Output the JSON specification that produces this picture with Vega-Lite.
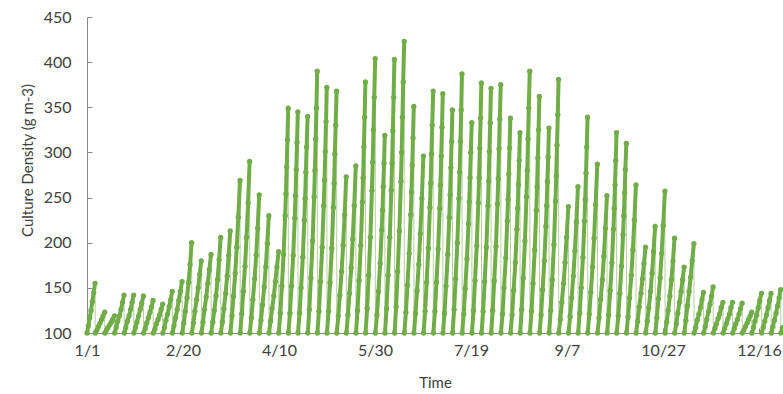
{"$schema":"https://vega.github.io/schema/vega-lite/v6.json","width":696,"height":316,"autosize":{"type":"none"},"padding":{"left":87,"top":17,"right":0,"bottom":61},"background":"white","config":{"view":{"stroke":null},"font":"Lato"},
"data":{"values":[
{"c":1,"t":0,"v":100},{"c":1,"t":0.7,"v":108},{"c":1,"t":1.4,"v":117},{"c":1,"t":2.1,"v":125},{"c":1,"t":2.8,"v":135},{"c":1,"t":3.5,"v":145},{"c":1,"t":4.2,"v":155},
{"c":2,"t":4.3,"v":100},{"c":2,"t":5.1,"v":103},{"c":2,"t":5.9,"v":107},{"c":2,"t":6.8,"v":111},{"c":2,"t":7.6,"v":115},{"c":2,"t":8.4,"v":119},{"c":2,"t":9.2,"v":123},
{"c":3,"t":9.3,"v":100},{"c":3,"t":10.1,"v":103},{"c":3,"t":10.9,"v":106},{"c":3,"t":11.8,"v":109},{"c":3,"t":12.6,"v":112},{"c":3,"t":13.4,"v":115},{"c":3,"t":14.3,"v":119},
{"c":4,"t":14.4,"v":100},{"c":4,"t":15.2,"v":106},{"c":4,"t":16.0,"v":113},{"c":4,"t":16.9,"v":119},{"c":4,"t":17.7,"v":126},{"c":4,"t":18.5,"v":134},{"c":4,"t":19.3,"v":142},
{"c":5,"t":19.4,"v":100},{"c":5,"t":20.2,"v":106},{"c":5,"t":21.0,"v":113},{"c":5,"t":21.9,"v":119},{"c":5,"t":22.7,"v":126},{"c":5,"t":23.5,"v":134},{"c":5,"t":24.3,"v":142},
{"c":6,"t":24.4,"v":100},{"c":6,"t":25.2,"v":106},{"c":6,"t":26.0,"v":112},{"c":6,"t":26.9,"v":119},{"c":6,"t":27.7,"v":126},{"c":6,"t":28.5,"v":133},{"c":6,"t":29.4,"v":141},
{"c":7,"t":29.5,"v":100},{"c":7,"t":30.3,"v":105},{"c":7,"t":31.1,"v":111},{"c":7,"t":32.0,"v":117},{"c":7,"t":32.8,"v":123},{"c":7,"t":33.6,"v":129},{"c":7,"t":34.4,"v":136},
{"c":8,"t":34.5,"v":100},{"c":8,"t":35.3,"v":104},{"c":8,"t":36.1,"v":110},{"c":8,"t":37.0,"v":115},{"c":8,"t":37.8,"v":120},{"c":8,"t":38.6,"v":126},{"c":8,"t":39.4,"v":132},
{"c":9,"t":39.5,"v":100},{"c":9,"t":40.3,"v":106},{"c":9,"t":41.1,"v":114},{"c":9,"t":42.0,"v":121},{"c":9,"t":42.8,"v":129},{"c":9,"t":43.6,"v":137},{"c":9,"t":44.4,"v":146},
{"c":10,"t":44.5,"v":100},{"c":10,"t":45.3,"v":108},{"c":10,"t":46.1,"v":117},{"c":10,"t":47.0,"v":126},{"c":10,"t":47.8,"v":136},{"c":10,"t":48.6,"v":146},{"c":10,"t":49.5,"v":157},
{"c":11,"t":49.6,"v":100},{"c":11,"t":50.4,"v":111},{"c":11,"t":51.2,"v":124},{"c":11,"t":52.1,"v":139},{"c":11,"t":52.9,"v":156},{"c":11,"t":53.7,"v":176},{"c":11,"t":54.5,"v":200},
{"c":12,"t":54.6,"v":100},{"c":12,"t":55.4,"v":111},{"c":12,"t":56.2,"v":124},{"c":12,"t":57.1,"v":137},{"c":12,"t":57.9,"v":150},{"c":12,"t":58.7,"v":165},{"c":12,"t":59.5,"v":180},
{"c":13,"t":59.6,"v":100},{"c":13,"t":60.4,"v":112},{"c":13,"t":61.2,"v":126},{"c":13,"t":62.1,"v":140},{"c":13,"t":62.9,"v":155},{"c":13,"t":63.7,"v":170},{"c":13,"t":64.6,"v":187},
{"c":14,"t":64.7,"v":100},{"c":14,"t":65.5,"v":112},{"c":14,"t":66.3,"v":125},{"c":14,"t":67.2,"v":141},{"c":14,"t":68.0,"v":159},{"c":14,"t":68.8,"v":181},{"c":14,"t":69.6,"v":206},
{"c":15,"t":69.7,"v":100},{"c":15,"t":70.5,"v":112},{"c":15,"t":71.3,"v":127},{"c":15,"t":72.2,"v":144},{"c":15,"t":73.0,"v":163},{"c":15,"t":73.8,"v":186},{"c":15,"t":74.6,"v":213},
{"c":16,"t":74.7,"v":100},{"c":16,"t":75.5,"v":119},{"c":16,"t":76.3,"v":141},{"c":16,"t":77.2,"v":166},{"c":16,"t":78.0,"v":195},{"c":16,"t":78.8,"v":228},{"c":16,"t":79.7,"v":269},
{"c":17,"t":79.8,"v":100},{"c":17,"t":80.6,"v":121},{"c":17,"t":81.4,"v":146},{"c":17,"t":82.3,"v":174},{"c":17,"t":83.1,"v":206},{"c":17,"t":83.9,"v":244},{"c":17,"t":84.7,"v":290},
{"c":18,"t":84.8,"v":100},{"c":18,"t":85.6,"v":117},{"c":18,"t":86.4,"v":137},{"c":18,"t":87.3,"v":160},{"c":18,"t":88.1,"v":186},{"c":18,"t":88.9,"v":216},{"c":18,"t":89.7,"v":253},
{"c":19,"t":89.8,"v":100},{"c":19,"t":90.6,"v":114},{"c":19,"t":91.4,"v":131},{"c":19,"t":92.3,"v":151},{"c":19,"t":93.1,"v":173},{"c":19,"t":93.9,"v":199},{"c":19,"t":94.7,"v":230},
{"c":20,"t":94.8,"v":100},{"c":20,"t":95.6,"v":113},{"c":20,"t":96.4,"v":127},{"c":20,"t":97.3,"v":141},{"c":20,"t":98.1,"v":157},{"c":20,"t":98.9,"v":173},{"c":20,"t":99.8,"v":190},
{"c":21,"t":99.9,"v":100},{"c":21,"t":100.7,"v":122},{"c":21,"t":101.5,"v":152},{"c":21,"t":102.4,"v":187},{"c":21,"t":103.2,"v":230},{"c":21,"t":103.6,"v":254},{"c":21,"t":104.0,"v":284},{"c":21,"t":104.4,"v":314},{"c":21,"t":104.8,"v":349},
{"c":22,"t":104.9,"v":100},{"c":22,"t":105.7,"v":122},{"c":22,"t":106.5,"v":152},{"c":22,"t":107.4,"v":186},{"c":22,"t":108.2,"v":227},{"c":22,"t":108.6,"v":252},{"c":22,"t":109.0,"v":281},{"c":22,"t":109.4,"v":311},{"c":22,"t":109.8,"v":345},
{"c":23,"t":109.9,"v":100},{"c":23,"t":110.7,"v":122},{"c":23,"t":111.5,"v":150},{"c":23,"t":112.4,"v":184},{"c":23,"t":113.2,"v":225},{"c":23,"t":113.6,"v":249},{"c":23,"t":114.0,"v":278},{"c":23,"t":114.4,"v":306},{"c":23,"t":114.9,"v":340},
{"c":24,"t":115.0,"v":100},{"c":24,"t":115.8,"v":126},{"c":24,"t":116.6,"v":161},{"c":24,"t":117.5,"v":202},{"c":24,"t":118.3,"v":251},{"c":24,"t":118.7,"v":280},{"c":24,"t":119.1,"v":315},{"c":24,"t":119.5,"v":349},{"c":24,"t":119.9,"v":390},
{"c":25,"t":120.0,"v":100},{"c":25,"t":120.8,"v":124},{"c":25,"t":121.6,"v":157},{"c":25,"t":122.5,"v":195},{"c":25,"t":123.3,"v":241},{"c":25,"t":123.7,"v":269},{"c":25,"t":124.1,"v":301},{"c":25,"t":124.5,"v":334},{"c":25,"t":124.9,"v":372},
{"c":26,"t":125.0,"v":100},{"c":26,"t":125.8,"v":124},{"c":26,"t":126.6,"v":156},{"c":26,"t":127.5,"v":194},{"c":26,"t":128.3,"v":239},{"c":26,"t":128.7,"v":266},{"c":26,"t":129.1,"v":298},{"c":26,"t":129.5,"v":330},{"c":26,"t":130.0,"v":368},
{"c":27,"t":130.1,"v":100},{"c":27,"t":130.9,"v":119},{"c":27,"t":131.7,"v":142},{"c":27,"t":132.6,"v":168},{"c":27,"t":133.4,"v":197},{"c":27,"t":134.2,"v":231},{"c":27,"t":135.0,"v":273},
{"c":28,"t":135.1,"v":100},{"c":28,"t":135.9,"v":120},{"c":28,"t":136.7,"v":144},{"c":28,"t":137.6,"v":172},{"c":28,"t":138.4,"v":204},{"c":28,"t":139.2,"v":241},{"c":28,"t":140.0,"v":285},
{"c":29,"t":140.1,"v":100},{"c":29,"t":140.9,"v":125},{"c":29,"t":141.7,"v":158},{"c":29,"t":142.6,"v":197},{"c":29,"t":143.4,"v":245},{"c":29,"t":143.8,"v":272},{"c":29,"t":144.2,"v":306},{"c":29,"t":144.6,"v":339},{"c":29,"t":145.0,"v":378},
{"c":30,"t":145.1,"v":100},{"c":30,"t":145.9,"v":127},{"c":30,"t":146.7,"v":164},{"c":30,"t":147.6,"v":206},{"c":30,"t":148.4,"v":258},{"c":30,"t":148.8,"v":289},{"c":30,"t":149.2,"v":325},{"c":30,"t":149.6,"v":361},{"c":30,"t":150.1,"v":404},
{"c":31,"t":150.2,"v":100},{"c":31,"t":151.0,"v":120},{"c":31,"t":151.8,"v":146},{"c":31,"t":152.7,"v":177},{"c":31,"t":153.5,"v":214},{"c":31,"t":153.9,"v":236},{"c":31,"t":154.3,"v":262},{"c":31,"t":154.7,"v":288},{"c":31,"t":155.1,"v":319},
{"c":32,"t":155.2,"v":100},{"c":32,"t":156.0,"v":127},{"c":32,"t":156.8,"v":164},{"c":32,"t":157.7,"v":206},{"c":32,"t":158.5,"v":258},{"c":32,"t":158.9,"v":288},{"c":32,"t":159.3,"v":324},{"c":32,"t":159.7,"v":361},{"c":32,"t":160.1,"v":403},
{"c":33,"t":160.2,"v":100},{"c":33,"t":161.0,"v":129},{"c":33,"t":161.8,"v":168},{"c":33,"t":162.7,"v":213},{"c":33,"t":163.5,"v":268},{"c":33,"t":163.9,"v":300},{"c":33,"t":164.3,"v":339},{"c":33,"t":164.7,"v":378},{"c":33,"t":165.2,"v":423},
{"c":34,"t":165.3,"v":100},{"c":34,"t":166.1,"v":123},{"c":34,"t":166.9,"v":153},{"c":34,"t":167.8,"v":188},{"c":34,"t":168.6,"v":231},{"c":34,"t":169.0,"v":256},{"c":34,"t":169.4,"v":286},{"c":34,"t":169.8,"v":316},{"c":34,"t":170.2,"v":351},
{"c":35,"t":170.3,"v":100},{"c":35,"t":171.1,"v":122},{"c":35,"t":171.9,"v":147},{"c":35,"t":172.8,"v":176},{"c":35,"t":173.6,"v":210},{"c":35,"t":174.4,"v":249},{"c":35,"t":175.2,"v":296},
{"c":36,"t":175.3,"v":100},{"c":36,"t":176.1,"v":124},{"c":36,"t":176.9,"v":156},{"c":36,"t":177.8,"v":194},{"c":36,"t":178.6,"v":239},{"c":36,"t":179.0,"v":266},{"c":36,"t":179.4,"v":298},{"c":36,"t":179.8,"v":330},{"c":36,"t":180.3,"v":368},
{"c":37,"t":180.4,"v":100},{"c":37,"t":181.2,"v":124},{"c":37,"t":182.0,"v":156},{"c":37,"t":182.9,"v":193},{"c":37,"t":183.7,"v":238},{"c":37,"t":184.1,"v":264},{"c":37,"t":184.5,"v":296},{"c":37,"t":184.9,"v":328},{"c":37,"t":185.3,"v":365},
{"c":38,"t":185.4,"v":100},{"c":38,"t":186.2,"v":122},{"c":38,"t":187.0,"v":152},{"c":38,"t":187.9,"v":187},{"c":38,"t":188.7,"v":228},{"c":38,"t":189.1,"v":253},{"c":38,"t":189.5,"v":283},{"c":38,"t":189.9,"v":312},{"c":38,"t":190.3,"v":347},
{"c":39,"t":190.4,"v":100},{"c":39,"t":191.2,"v":126},{"c":39,"t":192.0,"v":160},{"c":39,"t":192.9,"v":200},{"c":39,"t":193.7,"v":249},{"c":39,"t":194.1,"v":278},{"c":39,"t":194.5,"v":312},{"c":39,"t":194.9,"v":347},{"c":39,"t":195.3,"v":387},
{"c":40,"t":195.4,"v":100},{"c":40,"t":196.2,"v":121},{"c":40,"t":197.0,"v":149},{"c":40,"t":197.9,"v":182},{"c":40,"t":198.7,"v":221},{"c":40,"t":199.1,"v":245},{"c":40,"t":199.5,"v":272},{"c":40,"t":199.9,"v":300},{"c":40,"t":200.4,"v":333},
{"c":41,"t":200.5,"v":100},{"c":41,"t":201.3,"v":125},{"c":41,"t":202.1,"v":158},{"c":41,"t":203.0,"v":197},{"c":41,"t":203.8,"v":244},{"c":41,"t":204.2,"v":272},{"c":41,"t":204.6,"v":305},{"c":41,"t":205.0,"v":338},{"c":41,"t":205.4,"v":377},
{"c":42,"t":205.5,"v":100},{"c":42,"t":206.3,"v":124},{"c":42,"t":207.1,"v":157},{"c":42,"t":208.0,"v":195},{"c":42,"t":208.8,"v":241},{"c":42,"t":209.2,"v":268},{"c":42,"t":209.6,"v":301},{"c":42,"t":210.0,"v":333},{"c":42,"t":210.4,"v":371},
{"c":43,"t":210.5,"v":100},{"c":43,"t":211.3,"v":125},{"c":43,"t":212.1,"v":158},{"c":43,"t":213.0,"v":196},{"c":43,"t":213.8,"v":243},{"c":43,"t":214.2,"v":271},{"c":43,"t":214.6,"v":304},{"c":43,"t":215.0,"v":337},{"c":43,"t":215.5,"v":375},
{"c":44,"t":215.6,"v":100},{"c":44,"t":216.4,"v":121},{"c":44,"t":217.2,"v":150},{"c":44,"t":218.1,"v":183},{"c":44,"t":218.9,"v":224},{"c":44,"t":219.3,"v":248},{"c":44,"t":219.7,"v":276},{"c":44,"t":220.1,"v":305},{"c":44,"t":220.5,"v":338},
{"c":45,"t":220.6,"v":100},{"c":45,"t":221.4,"v":120},{"c":45,"t":222.2,"v":147},{"c":45,"t":223.1,"v":178},{"c":45,"t":223.9,"v":215},{"c":45,"t":224.3,"v":238},{"c":45,"t":224.7,"v":264},{"c":45,"t":225.1,"v":291},{"c":45,"t":225.5,"v":322},
{"c":46,"t":225.6,"v":100},{"c":46,"t":226.4,"v":126},{"c":46,"t":227.2,"v":161},{"c":46,"t":228.1,"v":202},{"c":46,"t":228.9,"v":251},{"c":46,"t":229.3,"v":280},{"c":46,"t":229.7,"v":315},{"c":46,"t":230.1,"v":349},{"c":46,"t":230.6,"v":390},
{"c":47,"t":230.7,"v":100},{"c":47,"t":231.5,"v":124},{"c":47,"t":232.3,"v":155},{"c":47,"t":233.2,"v":192},{"c":47,"t":234.0,"v":236},{"c":47,"t":234.4,"v":262},{"c":47,"t":234.8,"v":294},{"c":47,"t":235.2,"v":325},{"c":47,"t":235.6,"v":362},
{"c":48,"t":235.7,"v":100},{"c":48,"t":236.5,"v":120},{"c":48,"t":237.3,"v":148},{"c":48,"t":238.2,"v":180},{"c":48,"t":239.0,"v":218},{"c":48,"t":239.4,"v":241},{"c":48,"t":239.8,"v":268},{"c":48,"t":240.2,"v":295},{"c":48,"t":240.6,"v":327},
{"c":49,"t":240.7,"v":100},{"c":49,"t":241.5,"v":125},{"c":49,"t":242.3,"v":159},{"c":49,"t":243.2,"v":198},{"c":49,"t":244.0,"v":246},{"c":49,"t":244.4,"v":274},{"c":49,"t":244.8,"v":308},{"c":49,"t":245.2,"v":342},{"c":49,"t":245.6,"v":381},
{"c":50,"t":245.7,"v":100},{"c":50,"t":246.5,"v":115},{"c":50,"t":247.3,"v":134},{"c":50,"t":248.2,"v":155},{"c":50,"t":249.0,"v":178},{"c":50,"t":249.8,"v":206},{"c":50,"t":250.7,"v":240},
{"c":51,"t":250.8,"v":100},{"c":51,"t":251.6,"v":118},{"c":51,"t":252.4,"v":139},{"c":51,"t":253.3,"v":163},{"c":51,"t":254.1,"v":191},{"c":51,"t":254.9,"v":223},{"c":51,"t":255.7,"v":262},
{"c":52,"t":255.8,"v":100},{"c":52,"t":256.6,"v":122},{"c":52,"t":257.4,"v":150},{"c":52,"t":258.3,"v":184},{"c":52,"t":259.1,"v":224},{"c":52,"t":259.5,"v":248},{"c":52,"t":259.9,"v":277},{"c":52,"t":260.3,"v":306},{"c":52,"t":260.7,"v":339},
{"c":53,"t":260.8,"v":100},{"c":53,"t":261.6,"v":121},{"c":53,"t":262.4,"v":145},{"c":53,"t":263.3,"v":173},{"c":53,"t":264.1,"v":205},{"c":53,"t":264.9,"v":242},{"c":53,"t":265.8,"v":287},
{"c":54,"t":265.9,"v":100},{"c":54,"t":266.7,"v":117},{"c":54,"t":267.5,"v":137},{"c":54,"t":268.4,"v":159},{"c":54,"t":269.2,"v":185},{"c":54,"t":270.0,"v":216},{"c":54,"t":270.8,"v":252},
{"c":55,"t":270.9,"v":100},{"c":55,"t":271.7,"v":120},{"c":55,"t":272.5,"v":147},{"c":55,"t":273.4,"v":178},{"c":55,"t":274.2,"v":215},{"c":55,"t":274.6,"v":238},{"c":55,"t":275.0,"v":264},{"c":55,"t":275.4,"v":291},{"c":55,"t":275.8,"v":322},
{"c":56,"t":275.9,"v":100},{"c":56,"t":276.7,"v":119},{"c":56,"t":277.5,"v":144},{"c":56,"t":278.4,"v":174},{"c":56,"t":279.2,"v":209},{"c":56,"t":279.6,"v":230},{"c":56,"t":280.0,"v":255},{"c":56,"t":280.4,"v":281},{"c":56,"t":280.9,"v":310},
{"c":57,"t":281.0,"v":100},{"c":57,"t":281.8,"v":118},{"c":57,"t":282.6,"v":139},{"c":57,"t":283.5,"v":164},{"c":57,"t":284.3,"v":192},{"c":57,"t":285.1,"v":225},{"c":57,"t":285.9,"v":264},
{"c":58,"t":286.0,"v":100},{"c":58,"t":286.8,"v":113},{"c":58,"t":287.6,"v":129},{"c":58,"t":288.5,"v":144},{"c":58,"t":289.3,"v":160},{"c":58,"t":290.1,"v":177},{"c":58,"t":290.9,"v":195},
{"c":59,"t":291.0,"v":100},{"c":59,"t":291.8,"v":113},{"c":59,"t":292.6,"v":128},{"c":59,"t":293.5,"v":146},{"c":59,"t":294.3,"v":166},{"c":59,"t":295.1,"v":190},{"c":59,"t":295.9,"v":218},
{"c":60,"t":296.0,"v":100},{"c":60,"t":296.8,"v":117},{"c":60,"t":297.6,"v":138},{"c":60,"t":298.5,"v":161},{"c":60,"t":299.3,"v":188},{"c":60,"t":300.1,"v":219},{"c":60,"t":301.0,"v":257},
{"c":61,"t":301.1,"v":100},{"c":61,"t":301.9,"v":112},{"c":61,"t":302.7,"v":125},{"c":61,"t":303.6,"v":141},{"c":61,"t":304.4,"v":159},{"c":61,"t":305.2,"v":180},{"c":61,"t":306.0,"v":205},
{"c":62,"t":306.1,"v":100},{"c":62,"t":306.9,"v":110},{"c":62,"t":307.7,"v":122},{"c":62,"t":308.6,"v":134},{"c":62,"t":309.4,"v":146},{"c":62,"t":310.2,"v":159},{"c":62,"t":311.0,"v":173},
{"c":63,"t":311.1,"v":100},{"c":63,"t":311.9,"v":114},{"c":63,"t":312.7,"v":130},{"c":63,"t":313.6,"v":146},{"c":63,"t":314.4,"v":162},{"c":63,"t":315.2,"v":180},{"c":63,"t":316.1,"v":199},
{"c":64,"t":316.2,"v":100},{"c":64,"t":317.0,"v":106},{"c":64,"t":317.8,"v":114},{"c":64,"t":318.7,"v":121},{"c":64,"t":319.5,"v":128},{"c":64,"t":320.3,"v":137},{"c":64,"t":321.1,"v":145},
{"c":65,"t":321.2,"v":100},{"c":65,"t":322.0,"v":107},{"c":65,"t":322.8,"v":115},{"c":65,"t":323.7,"v":124},{"c":65,"t":324.5,"v":132},{"c":65,"t":325.3,"v":141},{"c":65,"t":326.1,"v":151},
{"c":66,"t":326.2,"v":100},{"c":66,"t":327.0,"v":105},{"c":66,"t":327.8,"v":110},{"c":66,"t":328.7,"v":116},{"c":66,"t":329.5,"v":121},{"c":66,"t":330.3,"v":128},{"c":66,"t":331.2,"v":134},
{"c":67,"t":331.3,"v":100},{"c":67,"t":332.1,"v":105},{"c":67,"t":332.9,"v":110},{"c":67,"t":333.8,"v":116},{"c":67,"t":334.6,"v":121},{"c":67,"t":335.4,"v":128},{"c":67,"t":336.2,"v":134},
{"c":68,"t":336.3,"v":100},{"c":68,"t":337.1,"v":105},{"c":68,"t":337.9,"v":110},{"c":68,"t":338.8,"v":115},{"c":68,"t":339.6,"v":121},{"c":68,"t":340.4,"v":127},{"c":68,"t":341.2,"v":133},
{"c":69,"t":341.3,"v":100},{"c":69,"t":342.1,"v":103},{"c":69,"t":342.9,"v":107},{"c":69,"t":343.8,"v":111},{"c":69,"t":344.6,"v":115},{"c":69,"t":345.4,"v":119},{"c":69,"t":346.2,"v":123},
{"c":70,"t":346.3,"v":100},{"c":70,"t":347.1,"v":106},{"c":70,"t":347.9,"v":113},{"c":70,"t":348.8,"v":120},{"c":70,"t":349.6,"v":128},{"c":70,"t":350.4,"v":136},{"c":70,"t":351.3,"v":144},
{"c":71,"t":351.4,"v":100},{"c":71,"t":352.2,"v":106},{"c":71,"t":353.0,"v":113},{"c":71,"t":353.9,"v":120},{"c":71,"t":354.7,"v":128},{"c":71,"t":355.5,"v":136},{"c":71,"t":356.3,"v":144},
{"c":72,"t":356.4,"v":100},{"c":72,"t":357.2,"v":107},{"c":72,"t":358.0,"v":114},{"c":72,"t":358.9,"v":122},{"c":72,"t":359.7,"v":130},{"c":72,"t":360.5,"v":139},{"c":72,"t":361.3,"v":148},
{"c":73,"t":361.4,"v":100},{"c":73,"t":362.2,"v":106}
]},
"encoding":{
"x":{"field":"t","type":"quantitative","scale":{"domain":[0,362.5],"nice":false,"zero":false},"axis":{"values":[0,50,100,150,200,250,300,350],"labelExpr":"timeFormat(datetime(2016,0,1+datum.value),'%-m/%-d')","title":"Time","grid":false,"tickSize":-5,"domainColor":"#898989","tickColor":"#898989","labelFontSize":16,"labelColor":"#404040","labelPadding":14,"labelFlush":false,"labelOverlap":false,"titleFontSize":15,"titleFontWeight":"normal","titleColor":"#404040","titlePadding":17}},
"y":{"field":"v","type":"quantitative","scale":{"domain":[100,450],"nice":false,"zero":false},"axis":{"values":[100,150,200,250,300,350,400,450],"title":"Culture Density (g m-3)","grid":false,"tickSize":-5,"domainColor":"#898989","tickColor":"#898989","labelFontSize":16,"labelColor":"#404040","labelPadding":21,"labelOverlap":false,"labelFlush":false,"titleFontSize":15,"titleFontWeight":"normal","titleColor":"#404040","titlePadding":8,"titleY":143}}
},
"layer":[
{"mark":{"type":"line","color":"#B5CFA0","strokeWidth":1}},
{"mark":{"type":"line","color":"#70AD47","strokeWidth":4,"strokeCap":"round","strokeJoin":"round"},"encoding":{"detail":{"field":"c","type":"nominal"}}},
{"mark":{"type":"circle","color":"#70AD47","size":28,"opacity":1}}
]
}
